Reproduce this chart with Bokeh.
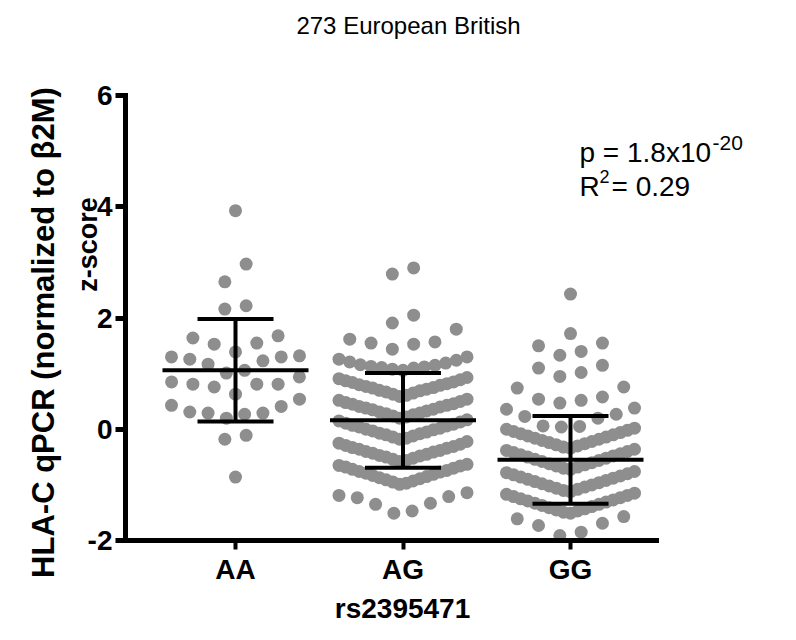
import math
from bokeh.plotting import figure
from bokeh.models import Range1d, Label, FixedTicker
from bokeh.embed import file_html
from bokeh.resources import INLINE

# ---------------- data ----------------
categories = ["AA", "AG", "GG"]

aa_values = [3.93, 2.97, 2.65, 2.16, 2.22,
             1.39, 1.53, 1.55, 1.64, 1.68,
             1.01, 1.06, 1.17, 1.23, 1.26, 1.30, 1.30, 1.32,
             0.63, 0.76, 0.81, 0.81, 0.81, 0.85, 0.94,
             0.20, 0.27, 0.29, 0.29, 0.31, 0.41, 0.43, 0.54,
             -0.11, -0.18,
             -0.86]

ag_values = [2.90, 2.79, 2.05, 1.91,
             1.44, 1.53, 1.55, 1.57, 1.62, 1.80,
             1.06, 1.08, 1.10, 1.11, 1.12, 1.13, 1.15, 1.16, 1.19, 1.21, 1.24, 1.26, 1.30,
             0.59, 0.61, 0.63, 0.65, 0.67, 0.69, 0.70, 0.72, 0.74, 0.75,
             0.77, 0.79, 0.80, 0.82, 0.84, 0.85, 0.87, 0.89, 0.91, 0.93,
             0.20, 0.22, 0.24, 0.26, 0.28, 0.29, 0.31, 0.33, 0.35, 0.36,
             0.38, 0.40, 0.41, 0.43, 0.45, 0.46, 0.48, 0.50, 0.52, 0.54,
             -0.18, -0.16, -0.14, -0.12, -0.10, -0.08, -0.07, -0.05, -0.03, -0.01,
             0.00, 0.02, 0.04, 0.06, 0.07, 0.09, 0.11, 0.13, 0.15, 0.17,
             -0.58, -0.56, -0.54, -0.52, -0.50, -0.48, -0.47, -0.45, -0.43, -0.41,
             -0.40, -0.38, -0.36, -0.34, -0.33, -0.31, -0.29, -0.27, -0.25, -0.22,
             -0.99, -0.97, -0.95, -0.93, -0.91, -0.89, -0.87, -0.85, -0.83, -0.81,
             -0.79, -0.77, -0.76, -0.74, -0.72, -0.70, -0.68, -0.66, -0.65, -0.63,
             -1.51, -1.47, -1.35, -1.33, -1.23, -1.21, -1.19, -1.14]

gg_values = [2.43, 1.72,
             1.33, 1.40, 1.50, 1.55,
             0.95, 1.02, 1.10, 1.15,
             0.47, 0.52, 0.54, 0.58, 0.74, 0.76,
             0.04, 0.05, 0.06, 0.20, 0.23, 0.27, 0.36, 0.38,
             -0.34, -0.32, -0.30, -0.28, -0.26, -0.24, -0.22, -0.20, -0.18, -0.16,
             -0.14, -0.12, -0.10, -0.08, -0.06, -0.04, -0.02, 0.00, 0.02,
             -0.72, -0.70, -0.68, -0.66, -0.64, -0.62, -0.60, -0.58, -0.56, -0.54,
             -0.52, -0.50, -0.48, -0.46, -0.44, -0.42, -0.40, -0.38, -0.36,
             -1.12, -1.10, -1.08, -1.06, -1.04, -1.02, -1.00, -0.98, -0.96, -0.94,
             -0.92, -0.90, -0.88, -0.86, -0.84, -0.82, -0.80, -0.78, -0.76,
             -1.51, -1.49, -1.47, -1.45, -1.43, -1.41, -1.39, -1.37, -1.35, -1.33,
             -1.31, -1.29, -1.27, -1.25, -1.23, -1.21, -1.19, -1.17, -1.15,
             -1.91, -1.85, -1.73, -1.69, -1.61, -1.57]

group_means = [1.06, 0.16, -0.55]
group_sds = [0.92, 0.85, 0.79]

y_ticks = [-2, 0, 2, 4, 6]
y_tick_labels = ["-2", "0", "2", "4", "6"]
Y_MIN, Y_MAX = -2, 6

# ---------------- layout ----------------
W, H = 780, 624            # figure size; page offset is 8px
PX_PER_X = 167.5           # pixels per category
PX_PER_Y = 55.625          # pixels per y unit
AXIS_X = 133               # screen x of the y axis
AXIS_TOP = 103             # screen y of y = 6
X0 = -(243 - AXIS_X) / PX_PER_X      # left end of x axis (AA at 0)
X1 = 2.513                           # right end of x axis
ROW_H = 0.375              # swarm row height in data units
MAX_W = 128.0              # max swarm width in px
MAX_STEP = 21.3            # max horizontal step between dots, px

XR = (X0 - (AXIS_X - 8) / PX_PER_X, X0 + (8 + W - AXIS_X) / PX_PER_X)
YR = (Y_MAX - (8 + H - AXIS_TOP) / PX_PER_Y, Y_MAX + (AXIS_TOP - 8) / PX_PER_Y)


def sx(px):   # screen x -> data x (for text placement)
    return X0 + (px - AXIS_X) / PX_PER_X


def sy(py):   # screen y -> data y
    return Y_MAX - (py - AXIS_TOP) / PX_PER_Y


def swarm(vals, center):
    v = sorted(vals)
    xs, ys = [], []
    i = 0
    while i < len(v):
        start = v[i]
        row = []
        while i < len(v) and v[i] < start + ROW_H - 1e-9:
            row.append(v[i])
            i += 1
        n = len(row)
        s = min(MAX_STEP, MAX_W / (n - 1)) if n > 1 else 0.0
        for k, val in enumerate(row):
            if n % 2 == 1:
                if k == 0:
                    off = 0.0
                else:
                    m = (k + 1) // 2
                    off = -m * s if k % 2 == 1 else m * s
            else:
                m = k // 2
                off = -(m + 0.5) * s if k % 2 == 0 else (m + 0.5) * s
            xs.append(center + off / PX_PER_X)
            ys.append(val)
    return xs, ys


p = figure(width=W, height=H, output_backend="svg", toolbar_location=None,
           x_range=Range1d(*XR), y_range=Range1d(*YR),
           min_border_left=0, min_border_right=0, min_border_top=0, min_border_bottom=0)
p.outline_line_color = None
p.xgrid.visible = False
p.ygrid.visible = False
p.background_fill_color = "white"
p.border_fill_color = "white"

DOT = "#8e8e8e"
for ci, vals in enumerate([aa_values, ag_values, gg_values]):
    xs, ys = swarm(vals, ci)
    p.scatter(xs, ys, size=13, fill_color=DOT, line_color=None)

# error bars: mean line, SD whiskers
cx = list(range(len(categories)))
lo = [m - s for m, s in zip(group_means, group_sds)]
hi = [m + s for m, s in zip(group_means, group_sds)]
MW = 73.0 / PX_PER_X
CW = 38.0 / PX_PER_X
p.segment([c - MW for c in cx], group_means, [c + MW for c in cx], group_means,
          line_color="black", line_width=4)
p.segment(cx, lo, cx, hi, line_color="black", line_width=4)
p.segment([c - CW for c in cx], hi, [c + CW for c in cx], hi, line_color="black", line_width=4)
p.segment([c - CW for c in cx], lo, [c + CW for c in cx], lo, line_color="black", line_width=4)

FONT = "Liberation Sans"

# y axis (fixed at the left end of the x axis)
ya = p.yaxis[0]
ya.fixed_location = X0
ya.bounds = (Y_MIN, Y_MAX)
ya.ticker = FixedTicker(ticks=y_ticks)
ya.major_label_overrides = {t: s for t, s in zip(y_ticks, y_tick_labels)}
ya.axis_line_width = 5
ya.axis_line_cap = "square"
ya.major_tick_line_width = 5
ya.major_tick_out = 10
ya.major_tick_in = 0
ya.minor_tick_line_color = None
ya.major_label_text_font = FONT
ya.major_label_text_font_style = "bold"
ya.major_label_text_font_size = "28px"
ya.major_label_text_color = "black"
ya.major_label_standoff = 3

# x axis (fixed at y = -2)
xa = p.xaxis[0]
xa.fixed_location = Y_MIN
xa.bounds = (X0, X1)
xa.ticker = FixedTicker(ticks=cx)
xa.major_label_overrides = {i: c for i, c in enumerate(categories)}
xa.axis_line_width = 5
xa.axis_line_cap = "square"
xa.major_tick_line_width = 4
xa.major_tick_out = 9
xa.major_tick_in = 0
xa.minor_tick_line_color = None
xa.major_label_text_font = FONT
xa.major_label_text_font_style = "bold"
xa.major_label_text_font_size = "28px"
xa.major_label_text_color = "black"
xa.major_label_standoff = 4

# x title
p.add_layout(Label(x=sx(410), y=sy(616), text="rs2395471", text_align="center",
                   text_baseline="alphabetic", text_font=FONT, text_font_style="bold",
                   text_font_size="28px", text_color="black"))

# y title (two lines, rotated)
p.add_layout(Label(x=sx(51), y=sy(340), text="HLA-C qPCR (normalized to β2M)", angle=math.pi / 2,
                   text_align="center", text_baseline="alphabetic", text_font=FONT,
                   text_font_style="bold", text_font_size="31px", text_color="black"))
p.add_layout(Label(x=sx(95), y=sy(252), text="z-score", angle=math.pi / 2,
                   text_align="center", text_baseline="alphabetic", text_font=FONT,
                   text_font_style="bold", text_font_size="27px", text_color="black"))

# top title
p.add_layout(Label(x=sx(416), y=sy(33), text="273 European British", text_align="center",
                   text_baseline="alphabetic", text_font=FONT, text_font_size="24px",
                   text_color="black"))

# statistics text
p.add_layout(Label(x=sx(587), y=sy(160), text="p = 1.8x10", text_font=FONT,
                   text_font_size="28px", text_color="black", text_baseline="alphabetic"))
p.add_layout(Label(x=sx(720), y=sy(150), text="-20", text_font=FONT,
                   text_font_size="21px", text_color="black", text_baseline="alphabetic"))
p.add_layout(Label(x=sx(587), y=sy(194), text="R", text_font=FONT,
                   text_font_size="28px", text_color="black", text_baseline="alphabetic"))
p.add_layout(Label(x=sx(607), y=sy(184), text="2", text_font=FONT,
                   text_font_size="18px", text_color="black", text_baseline="alphabetic"))
p.add_layout(Label(x=sx(619), y=sy(194), text="= 0.29", text_font=FONT,
                   text_font_size="28px", text_color="black", text_baseline="alphabetic"))

open("out.html", "w").write(file_html(p, INLINE))
